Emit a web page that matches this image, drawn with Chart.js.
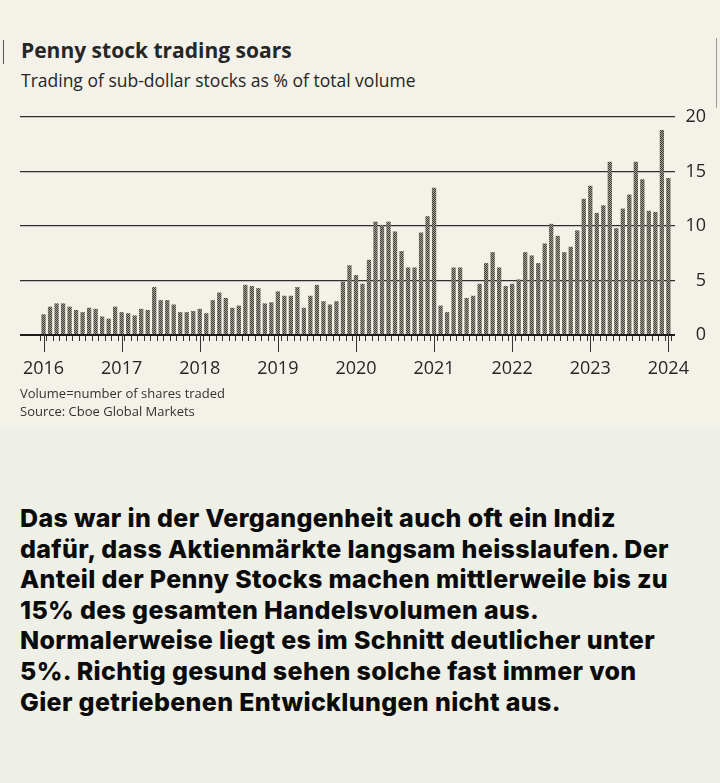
<!DOCTYPE html>
<html>
<head>
<meta charset="utf-8">
<script src="https://cdn.jsdelivr.net/npm/chart.js@4.4.1/dist/chart.umd.min.js"></script>
<style>
    html, body { margin: 0; padding: 0; }
    body { width: 720px; height: 783px; position: relative; background: #eef0e7; overflow: hidden; font-family: "Open Sans", sans-serif; }
    .paper { position: absolute; left: 0; top: 0; width: 720px; height: 427px; background: #f3f1e8; }
    .edge { position: absolute; width: 1px; background: #555; }
    .title { position: absolute; left: 21px; top: 36px; font-size: 21px; font-weight: 700; color: #262626; }
    .subtitle { position: absolute; left: 21px; top: 68px; font-size: 17.5px; color: #262626; }
    .chart-box { position: absolute; left: 0; top: 100px; width: 720px; height: 285px; }
    .notes { position: absolute; left: 20px; top: 384px; font-size: 13px; line-height: 18px; color: #333; }
    .comment { position: absolute; left: 20px; top: 503px; font-family: Inter, sans-serif; font-size: 25px; font-weight: 800; letter-spacing: 0.35px; line-height: 30.6px; color: #0b0b0b; white-space: nowrap; }
</style>
</head>
<body>
<div class="paper"></div>
<div class="edge" style="left:3px; top:40px; height:24px;"></div>
<div class="edge" style="left:716px; top:38px; height:70px; background:#999;"></div>
<div class="title">Penny stock trading soars</div>
<div class="subtitle">Trading of sub-dollar stocks as % of total volume</div>
<div class="chart-box"><canvas id="pennyChart"></canvas></div>
<div class="notes">Volume=number of shares traded<br>Source: Cboe Global Markets</div>
<div class="comment">Das war in der Vergangenheit auch oft ein Indiz<br>dafür, dass Aktienmärkte langsam heisslaufen. Der<br>Anteil der Penny Stocks machen mittlerweile bis zu<br>15% des gesamten Handelsvolumen aus.<br>Normalerweise liegt es im Schnitt deutlicher unter<br>5%. Richtig gesund sehen solche fast immer von<br>Gier getriebenen Entwicklungen nicht aus.</div>

<script>
// monthly share of sub-dollar stocks, % of total volume
const v2016 = [1.9, 2.6, 2.9, 2.9, 2.6, 2.3, 2.1, 2.5, 2.4, 1.7, 1.5, 2.6];
const v2017 = [2.1, 2.0, 1.8, 2.4, 2.3, 4.4, 3.2, 3.2, 2.8, 2.1, 2.1, 2.2];
const v2018 = [2.4, 2.0, 3.2, 3.9, 3.4, 2.5, 2.7, 4.6, 4.5, 4.3, 2.9, 3.0];
const v2019 = [4.0, 3.6, 3.6, 4.4, 2.5, 3.6, 4.6, 3.1, 2.8, 3.1, 4.9, 6.4];
const v2020 = [5.5, 4.7, 6.9, 10.4, 10.1, 10.4, 9.5, 7.7, 6.2, 6.2, 9.4, 10.9];
const v2021 = [13.5, 2.7, 2.1, 6.2, 6.2, 3.4, 3.6, 4.7, 6.6, 7.6, 6.2, 4.5];
const v2022 = [4.7, 5.1, 7.6, 7.3, 6.6, 8.4, 10.2, 9.1, 7.6, 8.1, 9.6, 12.5];
const v2023 = [13.7, 11.2, 11.9, 15.9, 9.8, 11.6, 12.9, 15.9, 14.3, 11.4, 11.3, 18.8];
const v2024 = [14.4];

const yearLabels = ['2016', '2017', '2018', '2019', '2020', '2021', '2022', '2023', '2024'];
const yTicks = [0, 5, 10, 15, 20];

const shareValues = [].concat(v2016, v2017, v2018, v2019, v2020, v2021, v2022, v2023, v2024);
const monthIndex = shareValues.map((_, i) => i);
const yearIndex = yearLabels.map((_, i) => i * 12);

const canvas = document.getElementById('pennyChart');
const ctx = canvas.getContext('2d');

// штриховка столбиков как на печатной картинке
function makeHatch() {
    const tile = document.createElement('canvas');
    tile.width = 2;
    tile.height = 2;
    const g = tile.getContext('2d');
    g.fillStyle = '#a39e94';
    g.fillRect(0, 0, 2, 2);
    g.fillStyle = '#423e39';
    g.fillRect(0, 0, 1, 1);
    g.fillRect(1, 1, 1, 1);
    return ctx.createPattern(tile, 'repeat');
}

const yearTicks = {
    id: 'yearTicks',
    afterDraw(chart) {
        const x = chart.scales.x;
        const bottom = chart.chartArea.bottom;
        const c = chart.ctx;
        c.save();
        c.strokeStyle = '#333';
        c.lineWidth = 1;
        yearIndex.forEach(i => {
            const px = Math.round(x.getPixelForValue(i)) + 0.5;
            c.beginPath();
            c.moveTo(px, bottom);
            c.lineTo(px, bottom + 17);
            c.stroke();
        });
        c.restore();
    }
};

new Chart(canvas, {
    type: 'bar',
    data: {
        datasets: [{
            data: shareValues.map((v, i) => ({ x: i, y: v })),
            backgroundColor: makeHatch(),
            borderWidth: 0,
            barPercentage: 0.66,
            categoryPercentage: 1,
        }]
    },
    options: {
        responsive: true,
        maintainAspectRatio: false,
        animation: false,
        devicePixelRatio: 1,
        layout: { padding: { left: 20, right: 14, top: 17, bottom: 0 } },
        plugins: { legend: { display: false }, tooltip: { enabled: false } },
        scales: {
            x: {
                type: 'linear',
                min: -3.1,
                max: 96.5,
                afterBuildTicks: (scale) => { scale.ticks = monthIndex.map(v => ({ value: v })); },
                afterFit: (scale) => { scale.height = 50; },
                grid: { display: true, drawOnChartArea: false, drawTicks: true, tickLength: 6, color: '#333', lineWidth: 1 },
                border: { display: false },
                ticks: {
                    autoSkip: false,
                    maxRotation: 0,
                    padding: 17,
                    color: '#262626',
                    font: { family: 'Open Sans', size: 18 },
                    callback: (v) => (v % 12 === 0 ? yearLabels[v / 12] : ''),
                },
            },
            y: {
                position: 'right',
                min: 0,
                max: 20,
                afterBuildTicks: (scale) => { scale.ticks = yTicks.map(v => ({ value: v })); },
                afterFit: (scale) => { scale.width = 31; },
                grid: {
                    drawTicks: false,
                    color: (c) => (c.tick.value === 0 ? '#1c1c1c' : '#2e2e2e'),
                    lineWidth: (c) => (c.tick.value === 0 ? 2 : 1.3),
                },
                border: { display: false },
                ticks: {
                    crossAlign: 'far',
                    color: '#262626',
                    font: { family: 'Open Sans', size: 18 },
                },
            },
        },
    },
    plugins: [yearTicks],
});
</script>
</body>
</html>
